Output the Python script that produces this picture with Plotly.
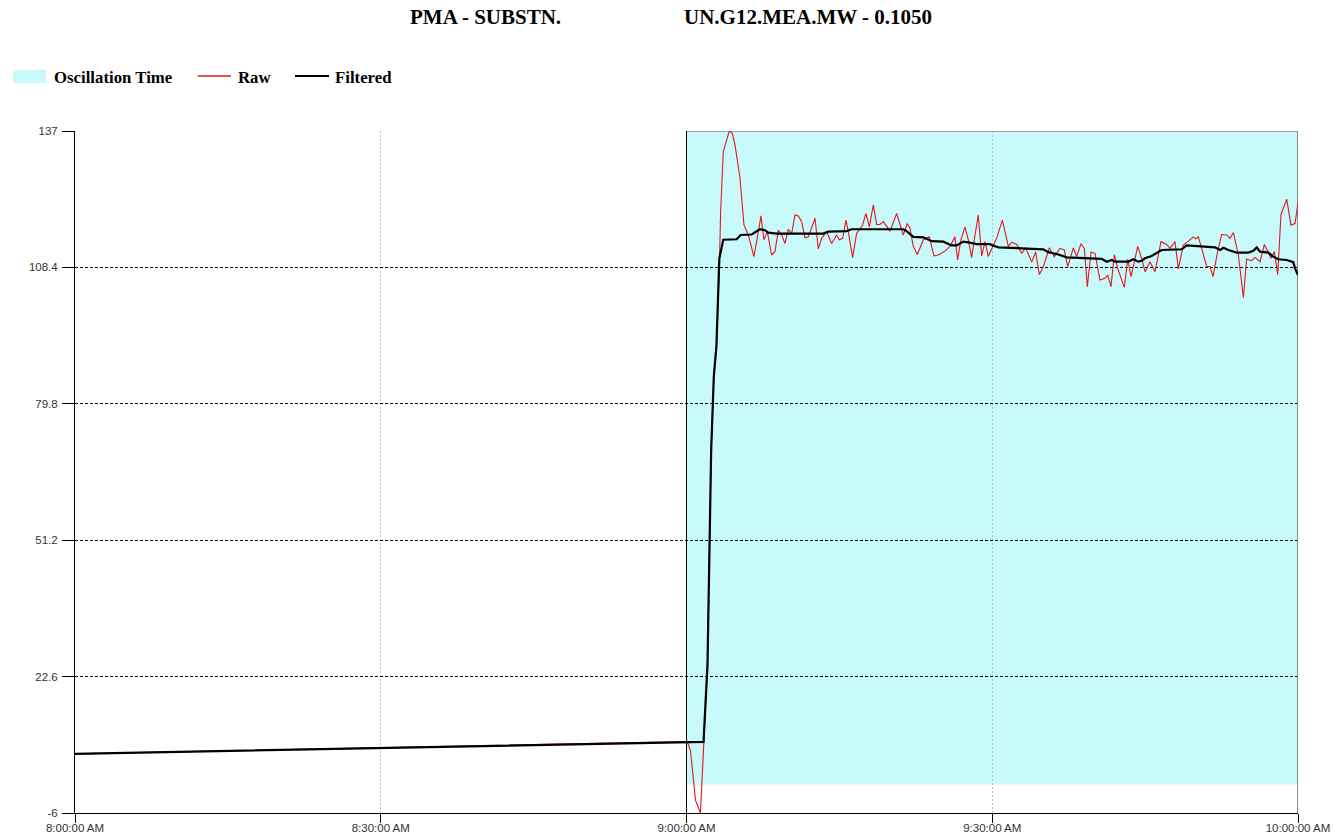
import pandas as pd
import plotly.graph_objects as go

# ---- data -------------------------------------------------------------
# Time is given in minutes relative to 9:00:00 AM; values are in MW.
raw_minutes = [
    -60, 0.07, 0.39, 0.88, 1.37, 1.70, 2.06, 2.42, 2.68, 2.94,
    3.22, 3.35, 3.61, 4.20, 4.49, 4.76, 5.25, 5.64, 6.06, 6.62,
    7.31, 7.60, 7.93, 8.35, 8.68, 9.01, 9.34, 9.66, 9.99, 10.32,
    10.64, 10.97, 11.30, 11.62, 11.95, 12.61, 12.93, 13.26, 13.75, 14.24,
    14.73, 14.99, 15.32, 15.65, 15.88, 16.30, 16.69, 17.28, 17.61, 17.94,
    18.33, 18.66, 18.98, 19.31, 19.97, 20.62, 20.95, 21.27, 21.67, 21.93,
    22.25, 22.65, 23.24, 23.82, 24.28, 24.71, 25.36, 25.85, 26.34, 26.60,
    26.93, 27.32, 27.65, 27.98, 28.31, 28.63, 28.96, 29.29, 29.61, 29.94,
    30.43, 30.99, 31.58, 31.91, 32.40, 32.89, 33.28, 33.87, 34.26, 34.62,
    35.01, 35.60, 36.09, 36.65, 37.07, 37.40, 37.96, 38.28, 38.71, 39.04,
    39.33, 39.69, 40.08, 40.57, 41.06, 41.33, 41.65, 41.98, 42.31, 42.96,
    43.29, 43.62, 44.27, 44.66, 44.99, 45.48, 45.97, 46.56, 47.11, 47.44,
    47.93, 48.26, 48.75, 49.24, 49.73, 49.96, 50.22, 50.55, 51.04, 51.37,
    51.66, 52.12, 52.51, 53.00, 53.33, 53.66, 54.15, 54.64, 54.96, 55.45,
    55.78, 56.27, 56.70, 57.35, 57.68, 58.01, 58.33, 58.89, 59.31, 59.71,
    60.0,
]
raw_mw = [
    6.4, 9.0, 7.1, -3.3, -6.0, 8.8, 25, 70, 85.5, 92,
    108, 120.1, 132.7, 137.0, 136.5, 134.1, 127.1, 117.3, 115.2, 110.65,
    119.2, 114.2, 115.9, 111.0, 111.7, 116.2, 115.2, 113.4, 116.4, 115.5,
    119.4, 119.2, 118.0, 114.6, 114.8, 118.7, 112.3, 114.5, 115.9, 113.4,
    115.2, 114.2, 114.5, 118.3, 115.9, 110.45, 115.5, 117.3, 119.7, 116.9,
    121.5, 117.4, 117.4, 118.0, 116.0, 119.7, 117.3, 115.2, 117.6, 116.6,
    112.8, 111.1, 114.2, 114.8, 110.8, 111.0, 111.8, 112.8, 114.8, 109.95,
    114.2, 116.9, 114.2, 110.45, 115.2, 119.4, 110.8, 113.8, 110.7, 112.3,
    114.5, 118.3, 112.8, 113.7, 113.2, 111.35, 112.5, 109.5, 111.6, 106.9,
    108.56, 112.5, 110.65, 112.4, 112.05, 108.56, 112.5, 110.65, 113.4, 112.3,
    104.36, 111.6, 111.35, 105.76, 106.1, 106.8, 104.36, 111.1, 108.2, 104.2,
    110.1, 106.46, 112.8, 110.3, 107.5, 109.6, 107.5, 113.8, 113.2, 112.4,
    113.8, 108.07, 113.1, 113.9, 114.8, 114.4, 114.8, 112.4, 108.56, 108.56,
    106.46, 111.8, 115.3, 115.2, 114.5, 115.7, 111.0, 102.05, 110.1, 109.8,
    110.5, 109.6, 113.2, 110.3, 111.7, 106.9, 119.5, 122.7, 117.3, 117.6,
    122.0,
]

filtered_minutes = [
    -60, 0.07, 1.67, 2.06, 2.42, 2.68, 2.94, 3.22, 3.61, 4.92,
    5.31, 6.39, 7.21, 7.70, 8.03, 8.84, 13.42, 13.91, 15.71, 16.20,
    21.27, 21.60, 22.25, 23.24, 24.05, 25.20, 26.02, 26.51, 27.16, 27.81,
    28.47, 29.78, 29.94, 30.60, 32.56, 33.54, 35.01, 35.50, 36.49, 37.30,
    39.43, 40.74, 41.23, 41.72, 42.05, 43.35, 43.84, 44.33, 44.66, 44.99,
    45.64, 46.13, 46.62, 48.59, 49.08, 51.86, 52.35, 52.68, 53.17, 53.98,
    55.13, 55.62, 55.95, 56.27, 57.09, 57.58, 58.07, 58.89, 59.54, 59.71,
    60.0,
]
filtered_mw = [
    6.4, 8.9, 8.9, 25, 70, 85.5, 92, 110.3, 114.2, 114.3,
    115.2, 115.3, 116.4, 116.2, 115.7, 115.5, 115.5, 115.9, 116.0, 116.4,
    116.4, 116.0, 114.8, 114.7, 113.9, 113.8, 113.0, 113.0, 113.8, 113.6,
    113.3, 113.3, 113.1, 112.6, 112.4, 112.2, 112.2, 111.6, 111.1, 110.5,
    110.3, 110.2, 109.6, 109.95, 109.6, 109.6, 110.1, 109.6, 109.8, 110.3,
    110.8, 111.35, 112.05, 112.2, 113.0, 112.6, 112.05, 112.5, 112.05, 111.5,
    111.5, 111.9, 112.6, 111.7, 111.5, 110.65, 110.1, 109.95, 109.5, 108.2,
    106.8,
]

# oscillation window (minutes relative to 9:00) and its MW band
osc_minutes = [0, 60]
osc_mw = [0, 137]

y_ticks = [-6, 22.6, 51.2, 79.8, 108.4, 137]
x_tick_minutes = [-60, -30, 0, 30, 60]
x_tick_labels = ["8:00:00 AM", "8:30:00 AM", "9:00:00 AM", "9:30:00 AM", "10:00:00 AM"]

title_left = "PMA - SUBSTN."
title_right = "UN.G12.MEA.MW - 0.1050"

# ---- helpers ----------------------------------------------------------
BASE = pd.Timestamp("2015-06-01 09:00:00")


def to_time(minutes):
    return [BASE + pd.Timedelta(minutes=m) for m in minutes]


W, H = 1337, 837
L, R, T, B = 75, 1298, 131, 813  # plot area in pixels


def px_x(px):
    return (px - L) / (R - L)


def px_y(py):
    return (B - py) / (B - T)


CYAN = "#C8FAFC"
SERIF = "Liberation Serif, Times New Roman, serif"
SANS = "Liberation Sans, Arial, sans-serif"

fig = go.Figure()

fig.add_trace(go.Scatter(
    x=to_time(raw_minutes), y=raw_mw, mode="lines", name="Raw",
    line=dict(color="#E3161C", width=1.1), showlegend=False,
))
fig.add_trace(go.Scatter(
    x=to_time(filtered_minutes), y=filtered_mw, mode="lines", name="Filtered",
    line=dict(color="#000000", width=2.2), showlegend=False,
))

osc_t = to_time(osc_minutes)
shapes = [
    # oscillation window, under the grid
    dict(type="rect", xref="x", yref="y", x0=osc_t[0], x1=osc_t[1],
         y0=osc_mw[0], y1=osc_mw[1], fillcolor=CYAN, line=dict(width=0),
         layer="below"),
    # window borders
    dict(type="line", xref="x", yref="y", x0=osc_t[0], x1=osc_t[1],
         y0=y_ticks[-1], y1=y_ticks[-1], line=dict(color="#8A8A8A", width=1.5),
         layer="between"),
    dict(type="line", xref="x", yref="y", x0=osc_t[1], x1=osc_t[1],
         y0=y_ticks[0], y1=y_ticks[-1], line=dict(color="#8A8A8A", width=2),
         layer="between"),
    dict(type="line", xref="x", yref="y", x0=osc_t[0], x1=osc_t[0],
         y0=y_ticks[0], y1=y_ticks[-1], line=dict(color="#000000", width=1),
         layer="between"),
    # legend symbols
    dict(type="rect", xref="paper", yref="paper", x0=px_x(13), x1=px_x(46),
         y0=px_y(83), y1=px_y(70), fillcolor=CYAN, line=dict(width=0)),
    dict(type="line", xref="paper", yref="paper", x0=px_x(198), x1=px_x(231),
         y0=px_y(76), y1=px_y(76), line=dict(color="#E3161C", width=1.5)),
    dict(type="line", xref="paper", yref="paper", x0=px_x(295), x1=px_x(329),
         y0=px_y(76), y1=px_y(76), line=dict(color="#000000", width=1.8)),
]

legend_font = dict(family=SERIF, size=16.8, color="#000000")
title_font = dict(family=SERIF, size=21, color="#000000")
annotations = [
    dict(text=f"<b>{title_left}</b>", xref="paper", yref="paper",
         x=px_x(408), y=px_y(17), xanchor="left", yanchor="middle",
         showarrow=False, font=title_font),
    dict(text=f"<b>{title_right}</b>", xref="paper", yref="paper",
         x=px_x(934), y=px_y(17), xanchor="right", yanchor="middle",
         showarrow=False, font=title_font),
    dict(text="<b>Oscillation Time</b>", xref="paper", yref="paper",
         x=px_x(52), y=px_y(77), xanchor="left", yanchor="middle",
         showarrow=False, font=legend_font),
    dict(text="<b>Raw</b>", xref="paper", yref="paper",
         x=px_x(236), y=px_y(77), xanchor="left", yanchor="middle",
         showarrow=False, font=legend_font),
    dict(text="<b>Filtered</b>", xref="paper", yref="paper",
         x=px_x(333), y=px_y(77), xanchor="left", yanchor="middle",
         showarrow=False, font=legend_font),
]

fig.update_layout(
    width=W, height=H,
    margin=dict(l=L, r=W - R, t=T, b=H - B, pad=0, autoexpand=False),
    paper_bgcolor="#FFFFFF", plot_bgcolor="#FFFFFF",
    shapes=shapes, annotations=annotations, showlegend=False,
)

fig.update_xaxes(
    type="date", range=[to_time([-60])[0], to_time([60])[0]],
    tickvals=to_time(x_tick_minutes), ticktext=x_tick_labels,
    ticks="outside", ticklen=9, tickcolor="#000000", tickwidth=1,
    ticklabelstandoff=-5,
    showline=True, linecolor="#000000", linewidth=1, automargin=False,
    showgrid=True, gridcolor="#A9BFD2", griddash="2px,2px", gridwidth=1,
    zeroline=False, tickfont=dict(family=SANS, size=11.5, color="#333333"),
)
fig.update_yaxes(
    range=[y_ticks[0], y_ticks[-1]], tickvals=y_ticks,
    ticktext=[f"{v:g}" for v in y_ticks], automargin=False,
    ticks="outside", ticklen=12, tickcolor="#000000", tickwidth=1,
    ticklabelstandoff=2,
    showline=True, linecolor="#000000", linewidth=1,
    showgrid=True, gridcolor="#000000", griddash="3px,2px", gridwidth=1,
    zeroline=False, tickfont=dict(family=SANS, size=11.5, color="#333333"),
)

fig.write_html("out.html")
